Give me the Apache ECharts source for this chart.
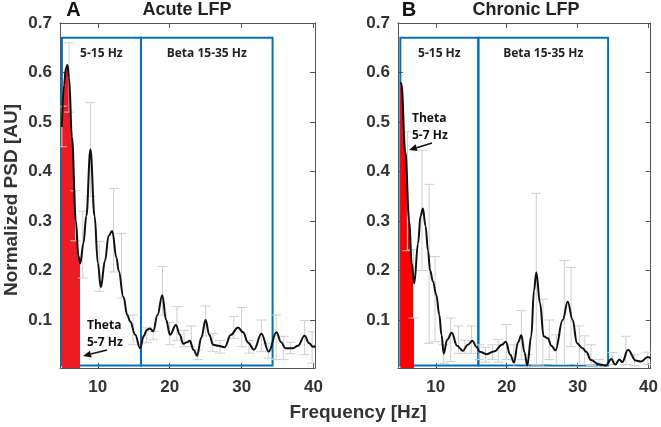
<!DOCTYPE html>
<html><head><meta charset="utf-8">
<script src="https://cdn.jsdelivr.net/npm/echarts@6/dist/echarts.min.js"></script>
<style>html,body{margin:0;padding:0;background:#fff}#c{width:661px;height:427px}</style>
</head><body><div id="c"></div>
<script>
// ---------- DATA ----------
const xTicks = [10, 20, 30, 40];
const yTicks = [0.1, 0.2, 0.3, 0.4, 0.5, 0.6, 0.7];
const bandEdges = [[5, 16], [16, 34.3]];
const bandLabels = ['5-15 Hz', 'Beta 15-35 Hz'];
const bandLow = 0.008, bandHigh = 0.67;
const thetaEndAcute = 7.55, thetaEndChronic = 6.95;

const acuteFreq = [5.0,5.3,5.55,5.78,6.0,6.4,6.95,7.3,7.55,8.0,8.4,8.97,9.55,10.0,10.42,11.0,11.5,12.0,12.6,12.9,13.55,14.1,14.5,15.2,15.87,16.4,16.8,17.25,17.7,18.3,18.96,19.5,20.03,20.86,21.4,21.87,22.4,22.8,23.3,23.81,24.4,24.98,25.5,26.03,26.73,27.65,28.5,29.5,30.2,30.9,31.72,32.75,33.76,34.83,35.5,36.07,37.13,37.82,38.75,39.4,39.9,40.25];
const acutePSD  = [0.49,0.575,0.608,0.615,0.59,0.47,0.30,0.23,0.214,0.255,0.31,0.445,0.31,0.215,0.166,0.22,0.27,0.28,0.225,0.2,0.147,0.11,0.097,0.07,0.043,0.068,0.08,0.083,0.077,0.11,0.15,0.1,0.07,0.09,0.07,0.052,0.055,0.058,0.04,0.028,0.065,0.1,0.07,0.05,0.048,0.045,0.07,0.085,0.075,0.054,0.04,0.072,0.036,0.075,0.055,0.043,0.043,0.048,0.068,0.053,0.046,0.047];

const chronicFreq = [5.0,5.15,5.7,6.26,6.6,6.96,7.5,7.85,8.18,8.55,8.9,9.2,9.6,10.08,10.5,10.8,11.12,11.6,12.24,13.0,13.8,14.5,15.19,15.7,16.2,17.15,18.3,19.3,19.86,20.5,21.02,21.6,22.06,22.5,22.9,23.46,23.85,24.17,24.7,25.2,25.79,26.3,26.87,27.9,28.6,29.3,29.9,30.7,31.2,31.88,33.0,33.98,34.75,35.3,35.9,36.3,37.1,38.2,38.9,39.9,40.3];
const chronicPSD  = [0.58,0.578,0.44,0.30,0.215,0.174,0.255,0.31,0.325,0.29,0.24,0.2,0.178,0.15,0.11,0.07,0.032,0.06,0.074,0.048,0.0375,0.05,0.058,0.046,0.036,0.031,0.037,0.05,0.056,0.03,0.014,0.055,0.069,0.035,0.008,0.067,0.16,0.196,0.134,0.067,0.063,0.048,0.039,0.1,0.137,0.1,0.053,0.043,0.036,0.019,0.0106,0.008,0.021,0.01,0.02,0.015,0.04,0.018,0.016,0.025,0.022];

const acuteErrFreq = [5.0,6.0,6.9,7.9,9.0,10.2,12.2,13.3,14.9,16.8,17.7,19.0,20.0,21.0,22.0,23.0,23.9,25.0,26.0,27.0,28.9,30.0,31.0,32.75,33.7,34.8,35.8,36.8,38.75,39.8];
const acuteErrLow  = [0.45,0.52,0.26,0.185,0.35,0.158,0.197,0.144,0.05,0.054,0.06,0.11,0.05,0.059,0.046,0.046,0.02,0.068,0.036,0.033,0.063,0.046,0.033,0.036,0.023,0.02,0.02,0.032,0.03,0.013];
const acuteErrHigh = [0.532,0.66,0.361,0.32,0.539,0.259,0.366,0.275,0.11,0.084,0.077,0.208,0.095,0.127,0.079,0.088,0.04,0.128,0.073,0.059,0.107,0.125,0.059,0.1,0.053,0.11,0.067,0.055,0.099,0.076];

const chronicErrFreq = [6.0,6.86,8.04,9.06,9.9,11.1,12.1,13.2,14.1,15.05,16.1,17.0,18.0,18.8,19.95,21.0,22.06,23.0,24.17,25.1,26.0,27.0,28.13,29.07,30.24,31.0,31.9,33.0,34.9,36.8,38.0,39.9];
const chronicErrLow  = [0.24,0.104,0.2,0.053,0.056,0.0126,0.016,0.0326,0.0326,0.0326,0.02,0.015,0.02,0.015,0.02,0.006,0.02,0.005,0.009,0.005,0.02,0.01,0.01,0.046,0.01,0.01,0.008,0.005,0.01,0.01,0.008,0.01];
const chronicErrHigh = [0.48,0.242,0.443,0.374,0.228,0.05,0.104,0.088,0.059,0.088,0.05,0.045,0.05,0.061,0.091,0.05,0.119,0.03,0.356,0.142,0.1,0.07,0.22,0.206,0.088,0.068,0.05,0.02,0.034,0.067,0.03,0.035];

// ---------- CHART ----------
const chart = echarts.init(document.getElementById('c'));
const zip2 = (a, b) => a.map((v, i) => [v, b[i]]);
const zip3 = (a, b, c) => a.map((v, i) => [v, b[i], c[i]]);

const tickFont = {fontFamily: '"Liberation Sans", Arial, sans-serif', fontWeight: 'bold', fontSize: 17, color: '#333'};
const axisLineStyle = {lineStyle: {color: '#555', width: 1}};
const annFont = '"Open Sans", "Noto Sans", sans-serif';

const grids = [
  {left: 60, top: 23, width: 255, height: 345},
  {left: 398, top: 23, width: 255, height: 345}
];
const xRanges = [[4.74, 40.2], [4.67, 40.3]];
const yMin = 0.003, yMax = 0.7;

const xAxes = [], yAxes = [];
[0, 1].forEach(g => {
  xAxes.push({type: 'value', gridIndex: g, min: xRanges[g][0], max: xRanges[g][1], position: 'bottom',
    axisLine: {show: true, onZero: false, ...axisLineStyle}, splitLine: {show: false},
    axisTick: {show: true, inside: true, length: 5, customValues: xTicks, lineStyle: {color: '#555'}},
    axisLabel: {show: true, customValues: xTicks, margin: 11, ...tickFont}});
  yAxes.push({type: 'value', gridIndex: g, min: yMin, max: yMax, position: 'left',
    axisLine: {show: true, onZero: false, ...axisLineStyle}, splitLine: {show: false},
    axisTick: {show: true, inside: true, length: 5, customValues: yTicks, lineStyle: {color: '#555'}},
    axisLabel: {show: true, customValues: yTicks, margin: 8, ...tickFont, formatter: v => v.toFixed(1)}});
});
[0, 1].forEach(g => {
  xAxes.push({type: 'value', gridIndex: g, min: xRanges[g][0], max: xRanges[g][1], position: 'top',
    axisLine: {show: true, onZero: false, ...axisLineStyle}, splitLine: {show: false},
    axisTick: {show: true, inside: true, length: 5, customValues: xTicks, lineStyle: {color: '#555'}},
    axisLabel: {show: false}});
  yAxes.push({type: 'value', gridIndex: g, min: yMin, max: yMax, position: 'right',
    axisLine: {show: true, onZero: false, ...axisLineStyle}, splitLine: {show: false},
    axisTick: {show: true, inside: true, length: 5, customValues: yTicks, lineStyle: {color: '#555'}},
    axisLabel: {show: false}});
});

function errRender(params, api) {
  const x = api.value(0), lo = api.value(1), hi = api.value(2);
  const a = api.coord([x, lo]), b = api.coord([x, hi]);
  const w = 5;
  const style = {stroke: '#cfcfcf', lineWidth: 1, fill: null};
  return {type: 'group', children: [
    {type: 'line', shape: {x1: a[0], y1: a[1], x2: b[0], y2: b[1]}, style},
    {type: 'line', shape: {x1: a[0] - w, y1: a[1], x2: a[0] + w, y2: a[1]}, style},
    {type: 'line', shape: {x1: b[0] - w, y1: b[1], x2: b[0] + w, y2: b[1]}, style}
  ]};
}

function bandArea() {
  return {
    silent: true,
    itemStyle: {color: 'rgba(0,0,0,0)', borderColor: '#0072BD', borderWidth: 2},
    label: {show: true, position: 'insideTop', distance: 11, fontFamily: annFont, fontWeight: 'bold', fontSize: 12, color: '#222'},
    data: bandEdges.map((b, i) => [{xAxis: b[0], yAxis: bandLow, name: bandLabels[i]}, {xAxis: b[1], yAxis: bandHigh}])
  };
}

const panels = [
  {f: acuteFreq, p: acutePSD, ef: acuteErrFreq, el: acuteErrLow, eh: acuteErrHigh},
  {f: chronicFreq, p: chronicPSD, ef: chronicErrFreq, el: chronicErrLow, eh: chronicErrHigh}
];
const series = [];
panels.forEach((P, g) => {
  series.push({type: 'line', xAxisIndex: g, yAxisIndex: g, data: zip2(P.f, P.p), smooth: 0.4, smoothMonotone: 'x',
    showSymbol: false, symbol: 'none', lineStyle: {width: 0, opacity: 0}, areaStyle: {opacity: 1, origin: 'start'}, silent: true, z: 1});
  series.push({type: 'custom', xAxisIndex: g, yAxisIndex: g, data: zip3(P.ef, P.el, P.eh), renderItem: errRender, clip: true, silent: true, z: 2});
  series.push({type: 'line', xAxisIndex: g, yAxisIndex: g, data: zip2(P.f, P.p), smooth: 0.4, smoothMonotone: 'x',
    showSymbol: false, symbol: 'none', lineStyle: {color: '#111', width: 2}, silent: true, z: 3, markArea: bandArea()});
});

function arrow(x1, y1, x2, y2) {
  const ang = Math.atan2(y2 - y1, x2 - x1), L = 8, W = 3.5;
  const bx = x2 - L * Math.cos(ang), by = y2 - L * Math.sin(ang);
  const px = -Math.sin(ang) * W, py = Math.cos(ang) * W;
  return [
    {type: 'line', shape: {x1, y1, x2: bx, y2: by}, style: {stroke: '#111', lineWidth: 1.6}},
    {type: 'polygon', shape: {points: [[x2, y2], [bx + px, by + py], [bx - px, by - py]]}, style: {fill: '#111'}}
  ];
}
function txt(x, y, text, size, color) {
  return {type: 'text', x, y, style: {text, fontFamily: '"Liberation Sans", Arial, sans-serif', fontWeight: 'bold',
    fontSize: size, fill: color || '#222', align: 'center', verticalAlign: 'middle'}};
}
function ann(x, y, text) {
  return {type: 'text', x, y, style: {text, fontFamily: annFont, fontWeight: 'bold', fontSize: 12, lineHeight: 17, fill: '#111', align: 'left', verticalAlign: 'top'}};
}

const graphic = [
  txt(73.5, 10, 'A', 20, '#111'),
  txt(187, 10, 'Acute LFP', 18),
  txt(409, 10, 'B', 20, '#111'),
  txt(526, 10, 'Chronic LFP', 18),
  txt(358, 413, 'Frequency [Hz]', 19, '#333'),
  {type: 'text', x: 11.5, y: 200, rotation: Math.PI / 2, style: {text: 'Normalized PSD [AU]', fontFamily: '"Liberation Sans", Arial, sans-serif', fontWeight: 'bold', fontSize: 19, fill: '#333', align: 'center', verticalAlign: 'middle'}},
  ann(87, 317, 'Theta\n5-7 Hz'),
  ann(412, 110, 'Theta\n5-7 Hz'),
  ...arrow(107, 350, 83, 356),
  ...arrow(432, 143, 409, 150)
];

chart.setOption({
  animation: false,
  backgroundColor: '#fff',
  grid: grids,
  xAxis: xAxes,
  yAxis: yAxes,
  visualMap: [
    {type: 'piecewise', show: false, seriesIndex: 0, dimension: 0, pieces: [{gte: 0, lte: thetaEndAcute, color: '#ed1c24'}], outOfRange: {color: 'rgba(0,0,0,0)'}},
    {type: 'piecewise', show: false, seriesIndex: 3, dimension: 0, pieces: [{gte: 0, lte: thetaEndChronic, color: '#ff0000'}], outOfRange: {color: 'rgba(0,0,0,0)'}}
  ],
  series,
  graphic
});
</script>
</body></html>
